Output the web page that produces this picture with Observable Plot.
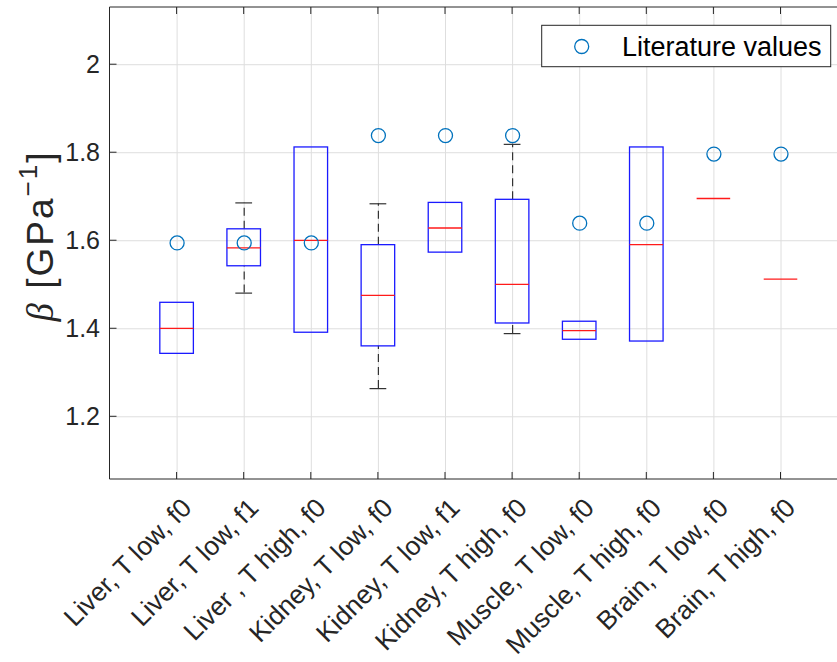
<!DOCTYPE html>
<html><head><meta charset="utf-8">
<script src="https://cdn.jsdelivr.net/npm/d3@7"></script>
<script src="https://cdn.jsdelivr.net/npm/@observablehq/plot@0.6"></script>
<style>html,body{margin:0;padding:0;background:#fff;overflow:hidden}</style>
</head><body><div id="chart"></div>
<script>
const categories = ["Liver, T low, f0", "Liver, T low, f1", "Liver , T high, f0", "Kidney, T low, f0", "Kidney, T low, f1", "Kidney, T high, f0", "Muscle, T low, f0", "Muscle, T high, f0", "Brain, T low, f0", "Brain, T high, f0"];
const q1 =          [1.343, 1.542, 1.391, 1.360, 1.573, 1.412, 1.375, 1.371, null, null];
const median =      [1.401, 1.584, 1.601, 1.476, 1.629, 1.501, 1.396, 1.591, 1.696, 1.513];
const q3 =          [1.459, 1.626, 1.812, 1.590, 1.686, 1.693, 1.416, 1.812, null, null];
const whiskerLow =  [null, 1.481, null, 1.264, null, 1.389, null, null, null, null];
const whiskerHigh = [null, 1.686, null, 1.684, null, 1.819, null, null, null, null];
const literature =  [1.595, 1.595, 1.595, 1.839, 1.839, 1.839, 1.640, 1.640, 1.797, 1.797];
const yTicks = [1.2, 1.4, 1.6, 1.8, 2];
const legendLabel = "Literature values";

const rows = categories.map((c, i) => ({cat: c, q1: q1[i], med: median[i], q3: q3[i], wLo: whiskerLow[i], wHi: whiskerHigh[i], lit: literature[i]}));
const boxes = rows.filter(d => d.q1 != null);
const whisk = rows.filter(d => d.wLo != null);

const W = 837, H = 662, mL = 109.5, mT = 7, mB = 183;
const axisColor = "#262626";
const chart = Plot.plot({
  width: W, height: H, marginLeft: mL, marginRight: 0, marginTop: mT, marginBottom: mB,
  style: {fontFamily: "'Liberation Sans', Arial, sans-serif", color: axisColor, background: "#fff"},
  x: {type: "band", domain: categories, range: [109.5, 847.6], paddingInner: 0.5, paddingOuter: 0.75, round: false, label: null},
  y: {domain: [1.0575, 2.130], label: null},
  marks: [
    Plot.gridX(categories, {stroke: "#dedede", strokeOpacity: 1}),
    Plot.gridY(yTicks, {stroke: "#dedede", strokeOpacity: 1}),
    Plot.ruleX(whisk, {x: "cat", y1: "q3", y2: "wHi", stroke: "#333", strokeWidth: 1.2, strokeDasharray: "8,5"}),
    Plot.ruleX(whisk, {x: "cat", y1: "wLo", y2: "q1", stroke: "#333", strokeWidth: 1.2, strokeDasharray: "8,5"}),
    Plot.tickY(whisk, {x: "cat", y: "wHi", stroke: "#333", strokeWidth: 1.2, insetLeft: 8.4, insetRight: 8.4}),
    Plot.tickY(whisk, {x: "cat", y: "wLo", stroke: "#333", strokeWidth: 1.2, insetLeft: 8.4, insetRight: 8.4}),
    Plot.barY(boxes, {x: "cat", y1: "q1", y2: "q3", fill: "none", stroke: "#1a1aff", strokeWidth: 1.3}),
    Plot.tickY(rows, {x: "cat", y: "med", stroke: "#ff1a1a", strokeWidth: 1.3}),
    Plot.dot(rows, {x: "cat", y: "lit", r: 7, stroke: "#0072BD", strokeWidth: 1.3}),
    Plot.axisY({ticks: yTicks, tickSize: 0, tickPadding: 10, fontSize: 25, tickFormat: d => String(d), label: null, fill: axisColor}),
    Plot.axisX({tickSize: 0, tickPadding: 24, tickRotate: -45, textAnchor: "end", lineAnchor: "middle", dx: 10, fontSize: 26.3, label: null, fill: axisColor})
  ]
});
document.getElementById("chart").appendChild(chart);

const svg = d3.select(chart);
const xs = chart.scale("x"), ys = chart.scale("y");
const x0 = mL, x1 = W, yTop = mT, yBot = H - mB;
const g = svg.append("g").attr("stroke", axisColor).attr("stroke-width", 1).attr("fill", "none");
g.append("line").attr("x1", x0).attr("x2", x1).attr("y1", yTop).attr("y2", yTop);
g.append("line").attr("x1", x0).attr("x2", x1).attr("y1", yBot).attr("y2", yBot);
g.append("line").attr("x1", x0).attr("x2", x0).attr("y1", yTop).attr("y2", yBot);
const tl = 7;
for (const c of categories) {
  const cx = xs.apply(c) + xs.bandwidth / 2;
  g.append("line").attr("x1", cx).attr("x2", cx).attr("y1", yBot).attr("y2", yBot - tl);
  g.append("line").attr("x1", cx).attr("x2", cx).attr("y1", yTop).attr("y2", yTop + tl);
}
for (const t of yTicks) {
  const cy = ys.apply(t);
  g.append("line").attr("x1", x0).attr("x2", x0 + tl).attr("y1", cy).attr("y2", cy);
}

// legend
const lg = svg.append("g");
lg.append("rect").attr("x", 541.7).attr("y", 25.3).attr("width", 289).attr("height", 41.4)
  .attr("fill", "#fff").attr("stroke", axisColor).attr("stroke-width", 1);
lg.append("circle").attr("cx", 581.7).attr("cy", 46.5).attr("r", 7).attr("fill", "none").attr("stroke", "#0072BD").attr("stroke-width", 1.3);
lg.append("text").attr("x", 622).attr("y", 46.5).attr("dy", "0.36em").attr("text-anchor", "start")
  .attr("font-size", 27).attr("fill", "#000").text(legendLabel);

// y label
const yl = svg.append("text").attr("transform", "translate(53,236) rotate(-90)").attr("text-anchor", "middle")
  .attr("font-size", 37).attr("letter-spacing", 2).attr("fill", axisColor);
yl.append("tspan").attr("font-family", "'Liberation Serif', serif").attr("font-style", "italic").text("β");
yl.append("tspan").text(" [GPa");
yl.append("tspan").attr("dy", -16).attr("font-size", 26).text("−1");
yl.append("tspan").attr("dy", 16).text("]");
</script>
</body></html>
